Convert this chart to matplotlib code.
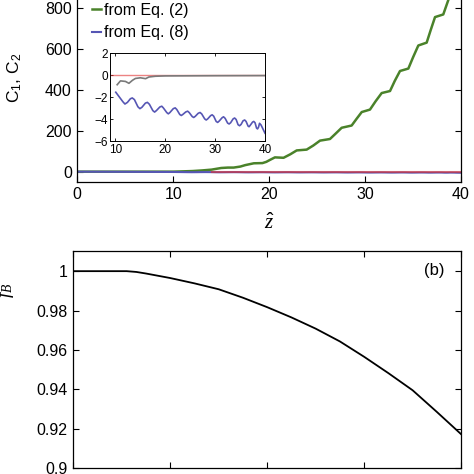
import matplotlib
matplotlib.use('Agg')
import matplotlib.pyplot as plt

plt.rcParams['font.family'] = ['Liberation Sans', 'DejaVu Sans']
plt.rcParams['mathtext.fontset'] = 'custom'
plt.rcParams['mathtext.rm'] = 'Liberation Sans'
plt.rcParams['mathtext.it'] = 'Liberation Serif:italic'

# panel (a): C1 (Eq. 2), grows with wiggles
green_z = [0, 10, 12, 13, 14, 15, 15.7, 16.3, 17.0, 17.5, 18.4, 19.3, 19.7, 20.1,
           20.6, 21.5, 22.2, 22.87, 23.91, 24.6, 25.3, 26.34, 26.9, 27.56, 28.6,
           29.1, 29.65, 30.51, 31.1, 31.73, 32.6, 33.1, 33.64, 34.51, 35.0,
           35.55, 36.42, 36.85, 37.29, 38.15, 38.68, 39.2, 40]
green_c = [0, 0, 3, 6, 10, 18, 20, 20, 25, 32, 41, 42, 48, 58,
           70, 68, 85, 104, 108, 128, 152, 160, 185, 215, 226,
           258, 292, 304, 345, 385, 395, 445, 493, 505, 560,
           618, 632, 695, 757, 770, 841, 930, 945]

# panel (a): C2 (Eq. 8), small negative with wiggles
blue_z = [0, 10.06, 11.5, 11.9, 12.4, 13.0, 13.37, 13.8, 14.5, 14.9, 15.3, 16.0,
          16.4, 16.8, 17.5, 17.85, 18.2, 18.9, 19.29, 19.6, 20.3, 20.6, 20.9,
          21.6, 21.98, 22.3, 22.9, 23.2, 23.5, 24.1, 24.48, 24.8, 25.4, 25.7,
          26.0, 26.6, 26.97, 27.3, 27.9, 28.2, 28.5, 29.1, 29.39, 29.7, 30.2,
          30.5, 30.8, 31.4, 31.68, 32.0, 32.5, 32.8, 33.1, 33.6, 33.9, 34.2,
          34.6, 34.9, 35.2, 35.6, 35.92, 36.2, 36.6, 36.8, 37.0, 37.5, 37.74,
          38.0, 38.3, 38.5, 38.7, 38.9, 39.2, 40]
blue_c = [0, -1.53, -2.4, -2.6, -2.45, -2.12, -2.05, -2.2, -2.85, -3.02, -2.9,
          -2.52, -2.45, -2.62, -3.2, -3.33, -3.2, -2.87, -2.8, -2.95, -3.38,
          -3.49, -3.38, -3.02, -2.95, -3.1, -3.55, -3.64, -3.55, -3.32, -3.25,
          -3.38, -3.74, -3.82, -3.72, -3.44, -3.37, -3.5, -3.95, -4.05, -3.95,
          -3.65, -3.58, -3.7, -4.18, -4.27, -4.15, -3.84, -3.76, -3.9, -4.33,
          -4.41, -4.3, -3.95, -3.87, -4.0, -4.48, -4.57, -4.45, -4.12, -4.05,
          -4.18, -4.6, -4.66, -4.55, -4.24, -4.18, -4.3, -4.78, -4.86, -4.7,
          -4.35, -4.5, -5.25]

# grey difference curve in the inset
grey_z = [10.34, 11.0, 12.0, 12.7, 13.4, 14.0, 15.0, 16.05, 16.7, 18, 20, 30, 40]
grey_c = [-0.85, -0.5, -0.55, -0.72, -0.45, -0.28, -0.22, -0.3, -0.15, -0.08,
          -0.05, -0.03, -0.02]

# red reference line at zero
red_z = [9, 14, 40]
red_c = [0, 0, 0]

# panel (b): f_B
fb_z = [0, 5.5, 6.5, 7.5, 10, 12.5, 15, 17.5, 20, 22.5, 25, 27.5, 30, 32.5,
        35, 37.5, 40]
fb_v = [1.0, 1.0, 0.9996, 0.9988, 0.9965, 0.9938, 0.9908, 0.9865, 0.9817,
        0.9765, 0.9708, 0.9643, 0.9565, 0.9482, 0.9395, 0.9285, 0.9172]

GREEN = '#4a822a'
BLUE = '#5656b4'
RED = '#e03030'


def matlab_axes(ax, fs):
    ax.tick_params(direction='in', top=True, right=True, length=4,
                   width=0.8, labelsize=fs, pad=4)
    for s in ax.spines.values():
        s.set_linewidth(0.9)


fig = plt.figure(figsize=(4.74, 4.74), dpi=100)

# ---- top panel ----
ax1 = fig.add_axes([0.1631, 0.6163, 0.8095, 0.4523])
ax1.plot(green_z, green_c, color=GREEN, lw=1.8, label='from Eq. (2)')
ax1.plot(blue_z, blue_c, color=BLUE, lw=1.5, label='from Eq. (8)')
ax1.plot(red_z[1:], red_c[1:], color=RED, lw=1.5, alpha=0.6)
ax1.set_xlim(0, 40)
ax1.set_ylim(-50, 1000)
ax1.set_xticks([0, 10, 20, 30, 40])
ax1.set_yticks([0, 200, 400, 600, 800, 1000])
matlab_axes(ax1, 11.5)
ax1.set_xlabel(r'$\hat{z}$', fontsize=15, labelpad=8)
ax1.set_ylabel(r'C$_1$, C$_2$', fontsize=12.5)
ax1.yaxis.set_label_coords(-0.139, 0.485)
ax1.legend(loc='center left', bbox_to_anchor=(0.038, 0.748), frameon=False,
           fontsize=11.5, handlelength=0.6, handletextpad=0.15,
           borderpad=0, borderaxespad=0, labelspacing=0.45)

# inset
axi = fig.add_axes([0.2331, 0.7015, 0.3260, 0.1860])
axi.plot(red_z, red_c, color=RED, lw=1.0, alpha=0.6)
axi.plot(grey_z, grey_c, color='#7a7a7a', lw=1.2)
axi.plot(blue_z[1:], blue_c[1:], color=BLUE, lw=1.2)
axi.set_xlim(9, 40)
axi.set_ylim(-6, 2)
axi.set_xticks([10, 20, 30, 40])
axi.set_yticks([-6, -4, -2, 0, 2])
axi.tick_params(direction='in', top=True, right=True, length=2.5,
                width=0.6, labelsize=8.5, pad=2)
for s in axi.spines.values():
    s.set_linewidth(0.7)

# ---- bottom panel ----
ax2 = fig.add_axes([0.1547, 0.01266, 0.8180, 0.4568])
ax2.plot(fb_z, fb_v, color='black', lw=1.3)
ax2.set_xlim(0, 40)
ax2.set_ylim(0.9, 1.01)
ax2.set_xticks([0, 10, 20, 30, 40])
ax2.set_yticks([0.9, 0.92, 0.94, 0.96, 0.98, 1.0])
ax2.set_yticklabels(['0.9', '0.92', '0.94', '0.96', '0.98', '1'])
matlab_axes(ax2, 11.5)
ax2.set_ylabel(r'$f_B$', fontsize=14)
ax2.yaxis.set_label_coords(-0.148, 0.82)
ax2.text(0.93, 0.91, '(b)', transform=ax2.transAxes, fontsize=12,
         ha='center', va='center')

fig.savefig('out.png', dpi=100)
